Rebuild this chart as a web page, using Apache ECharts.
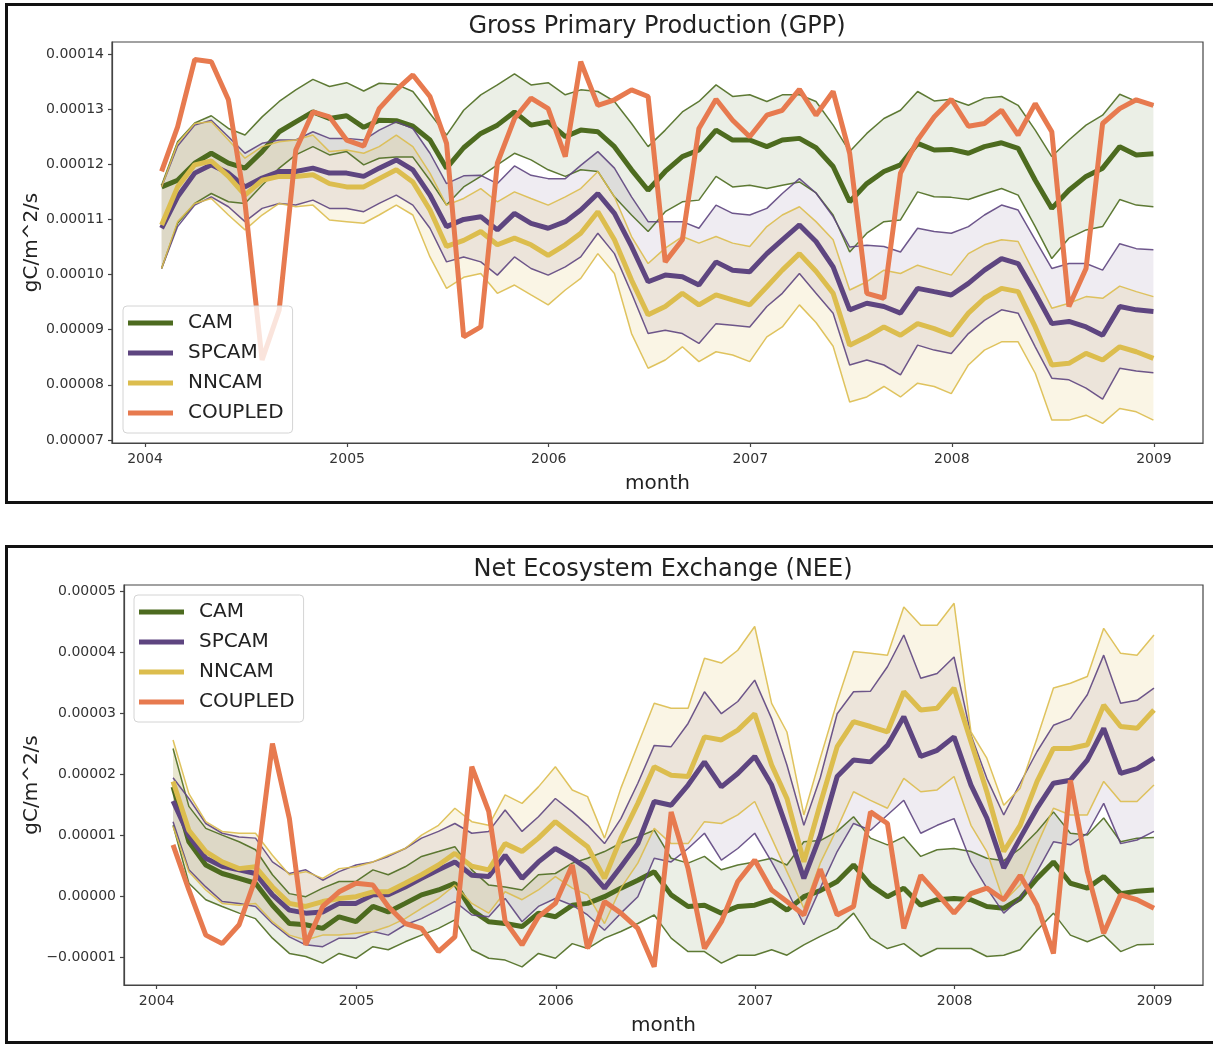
<!DOCTYPE html>
<html>
<head>
<meta charset="utf-8">
<script src="https://cdn.jsdelivr.net/npm/echarts@6/dist/echarts.min.js"></script>
<style>
  html, body { margin: 0; padding: 0; background: #ffffff; }
  #chart { width: 1213px; height: 1045px; }
</style>
</head>
<body>
<div id="chart"></div>
<script>
// Values are stored in units of 1e-5 gC/m^2/s.
const UNIT = 1e-5;

// Monthly samples (month-end dates, Jan 2004 .. Dec 2008), as timestamps
const monthEnds = [];
for (let i = 0; i < 60; i++) monthEnds.push(new Date(2004, i + 1, 0).getTime());

const yearTickLabels = [2004, 2005, 2006, 2007, 2008, 2009];
const gppTickLabels = [7, 8, 9, 10, 11, 12, 13, 14];
const neeTickLabels = [-1, 0, 1, 2, 3, 4, 5];
const models = ['CAM', 'SPCAM', 'NNCAM', 'COUPLED'];

// ---- Gross Primary Production ----
const gppCamMean = [
  11.59, 11.71, 12.02, 12.20, 12.02, 11.93, 12.23, 12.59, 12.77, 12.95, 12.83, 12.88, 12.67, 12.80, 12.79, 12.69, 12.44, 11.93, 12.30,
  12.56, 12.71, 12.95, 12.71, 12.77, 12.50, 12.62, 12.59, 12.32, 11.90, 11.53, 11.87, 12.14, 12.26, 12.62, 12.44, 12.44, 12.32, 12.44, 12.47, 12.30,
  11.96, 11.32, 11.65, 11.87, 11.99, 12.38, 12.26, 12.27, 12.20, 12.32, 12.39, 12.29, 11.71, 11.20, 11.53, 11.78, 11.93, 12.32, 12.17, 12.19];
const gppCamUpper = [
  11.62, 12.41, 12.75, 12.88, 12.65, 12.53, 12.86, 13.14, 13.35, 13.54, 13.41, 13.48, 13.33, 13.47, 13.45, 13.32, 12.92, 12.53, 12.98,
  13.26, 13.44, 13.64, 13.44, 13.48, 13.26, 13.35, 13.32, 13.14, 12.74, 12.32, 12.62, 12.95, 13.14, 13.44, 13.23, 13.26, 13.14, 13.26, 13.26, 13.14,
  12.71, 12.23, 12.56, 12.83, 12.98, 13.32, 13.15, 13.18, 13.07, 13.20, 13.23, 13.07, 12.62, 12.14, 12.44, 12.71, 12.89, 13.27, 13.14, 13.07];
const gppCamLower = [
  10.11, 10.93, 11.29, 11.47, 11.32, 11.29, 11.62, 11.93, 12.17, 12.32, 12.17, 12.23, 11.99, 12.11, 12.13, 12.13, 11.71, 11.26, 11.59,
  11.78, 11.99, 12.20, 12.08, 11.90, 11.78, 11.90, 11.87, 11.41, 11.08, 10.78, 11.14, 11.32, 11.35, 11.78, 11.59, 11.62, 11.56, 11.62, 11.68, 11.48,
  11.08, 10.41, 10.75, 10.96, 10.99, 11.50, 11.41, 11.40, 11.36, 11.46, 11.56, 11.44, 10.87, 10.29, 10.66, 10.81, 10.87, 11.36, 11.26, 11.23];

const gppSpMean = [
  10.84, 11.41, 11.84, 11.99, 11.84, 11.59, 11.75, 11.87, 11.87, 11.93, 11.84, 11.84, 11.78, 11.93, 12.08, 11.90, 11.44, 10.87, 11.00,
  11.05, 10.81, 11.11, 10.93, 10.84, 10.96, 11.17, 11.47, 11.11, 10.51, 9.87, 9.99, 9.96, 9.81, 10.23, 10.08, 10.05, 10.38, 10.63, 10.90, 10.60,
  10.14, 9.36, 9.48, 9.42, 9.30, 9.75, 9.69, 9.63, 9.84, 10.08, 10.29, 10.20, 9.66, 9.11, 9.15, 9.05, 8.90, 9.42, 9.36, 9.33];
const gppSpUpper = [
  11.59, 12.33, 12.71, 12.80, 12.50, 12.20, 12.38, 12.44, 12.44, 12.59, 12.47, 12.47, 12.44, 12.62, 12.77, 12.65, 12.20, 11.65, 11.79,
  11.80, 11.65, 11.97, 11.80, 11.74, 11.74, 11.98, 12.23, 11.93, 11.41, 10.96, 10.96, 10.96, 10.84, 11.26, 11.11, 11.08, 11.20, 11.47, 11.74, 11.48,
  11.05, 10.50, 10.53, 10.51, 10.41, 10.84, 10.78, 10.75, 10.87, 11.08, 11.26, 11.17, 10.63, 10.11, 10.20, 10.20, 10.08, 10.56, 10.47, 10.45];
const gppSpLower = [
  10.11, 10.87, 11.26, 11.41, 11.23, 10.96, 11.20, 11.29, 11.26, 11.35, 11.20, 11.20, 11.14, 11.29, 11.44, 11.26, 10.84, 10.23, 10.32,
  10.23, 9.99, 10.32, 10.11, 9.99, 10.14, 10.32, 10.75, 10.38, 9.66, 8.93, 8.99, 8.93, 8.75, 9.11, 9.08, 9.05, 9.42, 9.66, 10.02, 9.66,
  9.30, 8.36, 8.45, 8.36, 8.18, 8.72, 8.63, 8.57, 8.93, 9.17, 9.36, 9.30, 8.69, 8.12, 8.09, 7.94, 7.74, 8.30, 8.25, 8.22];

const gppNnMean = [
  10.90, 11.59, 11.99, 12.06, 11.78, 11.44, 11.71, 11.78, 11.78, 11.81, 11.65, 11.59, 11.59, 11.74, 11.90, 11.68, 11.17, 10.51, 10.62,
  10.78, 10.54, 10.66, 10.54, 10.35, 10.54, 10.75, 11.14, 10.63, 9.90, 9.27, 9.42, 9.66, 9.45, 9.63, 9.54, 9.45, 9.78, 10.08, 10.38, 10.06,
  9.66, 8.72, 8.87, 9.05, 8.90, 9.11, 9.02, 8.90, 9.30, 9.57, 9.75, 9.69, 9.05, 8.36, 8.39, 8.57, 8.45, 8.69, 8.60, 8.48];
const gppNnUpper = [
  11.59, 12.38, 12.74, 12.77, 12.44, 12.11, 12.32, 12.41, 12.44, 12.53, 12.23, 12.26, 12.20, 12.32, 12.53, 12.32, 11.84, 11.26, 11.38,
  11.56, 11.32, 11.50, 11.38, 11.26, 11.41, 11.56, 11.87, 11.41, 10.69, 10.20, 10.48, 10.69, 10.57, 10.69, 10.57, 10.51, 10.87, 11.08, 11.23, 10.96,
  10.63, 9.72, 9.87, 10.08, 10.02, 10.17, 10.08, 9.99, 10.38, 10.54, 10.63, 10.60, 9.99, 9.39, 9.48, 9.60, 9.57, 9.79, 9.69, 9.60];
const gppNnLower = [
  10.11, 10.96, 11.29, 11.38, 11.08, 10.81, 11.08, 11.29, 11.23, 11.26, 10.99, 10.96, 10.93, 11.08, 11.26, 11.08, 10.32, 9.75, 9.95,
  10.02, 9.66, 9.81, 9.63, 9.45, 9.72, 9.93, 10.38, 10.02, 8.93, 8.30, 8.45, 8.69, 8.42, 8.60, 8.54, 8.42, 8.87, 9.05, 9.45, 9.13,
  8.70, 7.69, 7.78, 7.97, 7.78, 8.03, 7.97, 7.84, 8.36, 8.63, 8.78, 8.78, 8.21, 7.36, 7.36, 7.45, 7.30, 7.57, 7.51, 7.36];

const gppCoupled = [
  11.87, 12.68, 13.90, 13.86, 13.17, 11.30, 8.45, 9.36, 12.26, 12.95, 12.86, 12.44, 12.33, 13.01, 13.35, 13.62, 13.23, 12.38, 8.87,
  9.05, 12.02, 12.83, 13.20, 13.01, 12.14, 13.86, 13.07, 13.17, 13.35, 13.23, 10.23, 10.63, 12.65, 13.18, 12.80, 12.50, 12.89, 12.98, 13.36, 12.89,
  13.32, 12.20, 9.66, 9.57, 11.84, 12.44, 12.86, 13.18, 12.69, 12.74, 12.98, 12.53, 13.10, 12.59, 9.42, 10.11, 12.74, 13.01, 13.17, 13.07];

// ---- Net Ecosystem Exchange ----
const neeCamMean = [
  1.80, 0.90, 0.52, 0.38, 0.30, 0.22, -0.14, -0.44, -0.46, -0.52, -0.33, -0.41, -0.16, -0.25, -0.11, 0.03, 0.11, 0.22, -0.22,
  -0.41, -0.44, -0.49, -0.27, -0.33, -0.14, -0.11, 0.00, 0.14, 0.27, 0.41, 0.03, -0.16, -0.14, -0.27, -0.16, -0.14, -0.05, -0.22, 0.00, 0.10,
  0.25, 0.52, 0.19, 0.00, 0.14, -0.14, -0.05, -0.03, -0.05, -0.16, -0.19, -0.03, 0.30, 0.57, 0.22, 0.14, 0.33, 0.05, 0.09, 0.11];
const neeCamUpper = [
  2.43, 1.48, 1.12, 1.01, 0.90, 0.77, 0.36, 0.05, 0.00, 0.14, 0.25, 0.25, 0.44, 0.36, 0.49, 0.66, 0.74, 0.82, 0.44,
  0.19, 0.16, 0.11, 0.36, 0.38, 0.55, 0.63, 0.74, 0.88, 0.98, 1.09, 0.63, 0.55, 0.66, 0.44, 0.52, 0.57, 0.63, 0.52, 0.90, 0.92,
  1.07, 1.31, 0.96, 0.85, 0.98, 0.66, 0.77, 0.79, 0.74, 0.63, 0.59, 0.79, 1.07, 1.39, 1.04, 1.01, 1.29, 0.90, 0.96, 0.97];
const neeCamLower = [
  1.17, 0.22, -0.05, -0.16, -0.27, -0.36, -0.68, -0.93, -0.98, -1.09, -0.93, -1.01, -0.82, -0.87, -0.74, -0.63, -0.52, -0.38, -0.87,
  -1.01, -1.04, -1.15, -0.93, -1.01, -0.77, -0.85, -0.68, -0.57, -0.44, -0.30, -0.68, -0.90, -0.90, -1.09, -0.96, -0.96, -0.87, -0.96, -0.79, -0.65,
  -0.52, -0.27, -0.68, -0.85, -0.77, -0.98, -0.85, -0.85, -0.85, -0.98, -0.96, -0.87, -0.55, -0.27, -0.63, -0.74, -0.63, -0.90, -0.79, -0.78];

const neeSpMean = [
  1.57, 1.00, 0.63, 0.50, 0.44, 0.38, 0.03, -0.22, -0.27, -0.25, -0.11, -0.11, 0.03, 0.03, 0.16, 0.30, 0.44, 0.57, 0.35,
  0.33, 0.68, 0.30, 0.57, 0.79, 0.63, 0.46, 0.14, 0.49, 0.87, 1.56, 1.50, 1.83, 2.21, 1.80, 2.02, 2.30, 1.83, 1.12, 0.30, 1.00,
  1.97, 2.24, 2.21, 2.48, 2.95, 2.30, 2.40, 2.62, 1.83, 1.29, 0.47, 0.96, 1.45, 1.86, 1.91, 2.24, 2.76, 2.02, 2.10, 2.27];
const neeSpUpper = [
  1.95, 1.61, 1.20, 1.04, 0.98, 0.96, 0.57, 0.38, 0.44, 0.27, 0.41, 0.52, 0.57, 0.66, 0.79, 0.96, 1.07, 1.20, 1.04,
  1.07, 1.42, 1.07, 1.31, 1.61, 1.39, 1.17, 0.87, 1.28, 1.86, 2.48, 2.46, 2.84, 3.36, 3.00, 3.20, 3.55, 2.92, 2.16, 1.17, 1.95,
  3.00, 3.36, 3.37, 3.77, 4.29, 3.58, 3.66, 3.93, 2.65, 1.94, 1.34, 1.86, 2.38, 2.81, 2.92, 3.31, 3.96, 3.17, 3.22, 3.42];
const neeSpLower = [
  1.23, 0.44, 0.16, -0.08, -0.11, -0.16, -0.44, -0.66, -0.79, -0.82, -0.68, -0.68, -0.57, -0.63, -0.46, -0.36, -0.22, -0.08, -0.30,
  -0.33, -0.03, -0.41, -0.16, -0.03, -0.14, -0.30, -0.55, -0.27, 0.00, 0.63, 0.57, 0.79, 1.04, 0.60, 0.79, 1.04, 0.57, 0.11, -0.46, 0.14,
  0.74, 1.20, 1.09, 1.34, 1.58, 1.04, 1.17, 1.28, 0.57, 0.14, -0.27, -0.03, 0.41, 0.90, 0.85, 1.04, 1.53, 0.87, 0.93, 1.07];

const neeNnMean = [
  1.89, 1.09, 0.74, 0.57, 0.46, 0.49, 0.16, -0.11, -0.16, -0.08, -0.03, 0.00, 0.08, 0.08, 0.22, 0.36, 0.52, 0.71, 0.50,
  0.44, 0.87, 0.74, 0.96, 1.23, 1.01, 0.82, 0.30, 0.96, 1.53, 2.13, 1.99, 1.97, 2.62, 2.57, 2.73, 3.00, 2.16, 1.61, 0.57, 1.52,
  2.46, 2.87, 2.79, 2.70, 3.36, 3.06, 3.09, 3.42, 2.54, 1.72, 0.74, 1.17, 1.89, 2.43, 2.43, 2.49, 3.14, 2.79, 2.76, 3.06];
const neeNnUpper = [
  2.57, 1.69, 1.23, 1.07, 1.04, 1.04, 0.68, 0.36, 0.41, 0.30, 0.46, 0.49, 0.57, 0.68, 0.79, 1.01, 1.17, 1.45, 1.23,
  1.17, 1.67, 1.53, 1.80, 2.13, 1.75, 1.64, 0.96, 1.78, 2.49, 3.17, 3.09, 3.09, 3.91, 3.83, 4.04, 4.43, 3.17, 2.70, 1.34, 2.27,
  3.20, 4.02, 3.99, 3.96, 4.75, 4.45, 4.45, 4.81, 2.70, 2.27, 1.50, 1.78, 2.60, 3.42, 3.50, 3.61, 4.40, 3.99, 3.96, 4.29];
const neeNnLower = [
  1.15, 0.41, 0.11, -0.11, -0.14, -0.11, -0.41, -0.63, -0.71, -0.63, -0.63, -0.60, -0.57, -0.49, -0.36, -0.19, -0.03, 0.19, -0.11,
  -0.27, 0.08, -0.05, 0.11, 0.33, 0.14, 0.03, -0.44, 0.14, 0.55, 1.12, 0.87, 0.87, 1.23, 1.20, 1.34, 1.56, 0.96, 0.41, -0.19, 0.55,
  1.12, 1.72, 1.58, 1.45, 1.94, 1.72, 1.75, 1.97, 1.17, 0.74, -0.08, 0.19, 0.85, 1.45, 1.34, 1.34, 1.89, 1.56, 1.56, 1.83];

const neeCoupled = [
  0.85, 0.11, -0.63, -0.77, -0.46, 0.30, 2.51, 1.28, -0.79, -0.16, 0.08, 0.22, 0.19, -0.16, -0.44, -0.52, -0.90, -0.66, 2.13,
  1.40, -0.40, -0.79, -0.33, -0.11, 0.52, -0.85, -0.08, -0.27, -0.52, -1.15, 1.39, 0.46, -0.85, -0.41, 0.25, 0.60, 0.11, -0.08, -0.30, 0.45,
  -0.30, -0.16, 1.39, 1.20, -0.52, 0.35, 0.05, -0.27, 0.05, 0.14, -0.05, 0.35, -0.14, -0.93, 1.91, 0.41, -0.60, 0.03, -0.05, -0.19];

// ---- styling ----
const FONT = "'DejaVu Sans', 'Liberation Sans', sans-serif";
const COLOR = { CAM: '#4d6b1f', SPCAM: '#5e4580', NNCAM: '#dcbd4e', COUPLED: '#e77a4f' };
const FILL = {
  CAM: 'rgba(77,107,31,0.11)',
  SPCAM: 'rgba(94,69,128,0.10)',
  NNCAM: 'rgba(220,189,78,0.15)'
};

const toPairs = vals => monthEnds.map((t, i) => [t, vals[i] * UNIT]);

// Shaded range between the lower and upper bound, as one polygon through the axis scales
function rangeArea(name, gi, lower, upper) {
  return {
    name: name + ' range', type: 'custom', xAxisIndex: gi, yAxisIndex: gi,
    silent: true, animation: false, clip: true,
    data: [[monthEnds[0], lower[0] * UNIT]],
    renderItem: function (params, api) {
      const pts = [];
      for (let i = 0; i < monthEnds.length; i++) pts.push(api.coord([monthEnds[i], upper[i] * UNIT]));
      for (let i = monthEnds.length - 1; i >= 0; i--) pts.push(api.coord([monthEnds[i], lower[i] * UNIT]));
      return { type: 'polygon', shape: { points: pts }, style: { fill: FILL[name], stroke: null } };
    }
  };
}

function thinLine(label, color, gi, vals) {
  return {
    name: label, type: 'line', xAxisIndex: gi, yAxisIndex: gi, symbol: 'none', showSymbol: false,
    silent: true, animation: false, data: toPairs(vals),
    lineStyle: { color: color, width: 1.5, opacity: 0.9 }, itemStyle: { color: color }
  };
}

function thickLine(label, color, gi, vals) {
  return {
    name: label, type: 'line', xAxisIndex: gi, yAxisIndex: gi, symbol: 'none', showSymbol: false,
    silent: true, animation: false, data: toPairs(vals),
    lineStyle: { color: color, width: 5 }, itemStyle: { color: color }
  };
}

function modelSeries(name, gi, lower, mean, upper) {
  return [
    rangeArea(name, gi, lower, upper),
    thinLine(name + ' lower', COLOR[name], gi, lower),
    thinLine(name + ' upper', COLOR[name], gi, upper),
    thickLine(name, COLOR[name], gi, mean)
  ];
}

// x range padded by 5% of the data span on each side
const span = monthEnds[59] - monthEnds[0];
const xMin = monthEnds[0] - 0.05 * span;
const xMax = monthEnds[59] + 0.05 * span;
const yearTicks = yearTickLabels.map(y => new Date(y, 0, 1).getTime());

const fmtY = v => (v.toFixed(5)).replace('-', '\u2212');

function xAxisFor(gi) {
  return {
    type: 'value', gridIndex: gi, min: xMin, max: xMax, scale: true,
    axisLine: { show: true, onZero: false, lineStyle: { color: '#444', width: 1.2 } },
    axisTick: { show: true, customValues: yearTicks, length: 4, lineStyle: { color: '#444', width: 1.2 } },
    axisLabel: {
      customValues: yearTicks, formatter: v => String(new Date(v).getFullYear()),
      fontSize: 14, color: '#333', fontFamily: FONT, margin: 9
    },
    splitLine: { show: false },
    name: 'month', nameLocation: 'middle', nameGap: 31,
    nameTextStyle: { fontSize: 20, color: '#222', fontFamily: FONT }
  };
}

function yAxisFor(gi, min, max, ticks, gap) {
  const vals = ticks.map(v => v * UNIT);
  return {
    type: 'value', gridIndex: gi, min: min * UNIT, max: max * UNIT,
    axisLine: { show: true, onZero: false, lineStyle: { color: '#444', width: 1.2 } },
    axisTick: { show: true, customValues: vals, length: 4, lineStyle: { color: '#444', width: 1.2 } },
    axisLabel: { customValues: vals, formatter: fmtY, fontSize: 14, color: '#333', fontFamily: FONT, margin: 8 },
    splitLine: { show: false },
    name: 'gC/m^2/s', nameLocation: 'middle', nameRotate: 90, nameGap: gap, nameMoveOverlap: false,
    nameTextStyle: { fontSize: 20, color: '#222', fontFamily: FONT }
  };
}

function legendAt(left, top) {
  return {
    data: models, orient: 'vertical', left: left, top: top,
    padding: [6, 9, 9, 5], itemWidth: 45, itemHeight: 5, itemGap: 8, icon: 'rect',
    backgroundColor: 'rgba(255,255,255,0.8)', borderColor: '#d4d4d4', borderWidth: 1, borderRadius: 4,
    selectedMode: false,
    textStyle: { fontSize: 20, color: '#222', fontFamily: FONT, lineHeight: 22, padding: [0, 0, 0, 10] }
  };
}

const series = [].concat(
  modelSeries('CAM', 0, gppCamLower, gppCamMean, gppCamUpper),
  modelSeries('SPCAM', 0, gppSpLower, gppSpMean, gppSpUpper),
  modelSeries('NNCAM', 0, gppNnLower, gppNnMean, gppNnUpper),
  [thickLine('COUPLED', COLOR.COUPLED, 0, gppCoupled)],
  modelSeries('CAM', 1, neeCamLower, neeCamMean, neeCamUpper),
  modelSeries('SPCAM', 1, neeSpLower, neeSpMean, neeSpUpper),
  modelSeries('NNCAM', 1, neeNnLower, neeNnMean, neeNnUpper),
  [thickLine('COUPLED', COLOR.COUPLED, 1, neeCoupled)]
);

const chart = echarts.init(document.getElementById('chart'), null, { renderer: 'canvas' });
chart.setOption({
  backgroundColor: '#ffffff',
  animation: false,
  textStyle: { fontFamily: FONT },
  title: [
    { text: 'Gross Primary Production (GPP)', left: 657, top: 15, textAlign: 'center', padding: 0,
      textStyle: { fontSize: 24, fontWeight: 'normal', color: '#222', fontFamily: FONT } },
    { text: 'Net Ecosystem Exchange (NEE)', left: 663, top: 558, textAlign: 'center', padding: 0,
      textStyle: { fontSize: 24, fontWeight: 'normal', color: '#222', fontFamily: FONT } }
  ],
  grid: [
    { left: 112, top: 42, width: 1091, height: 401, show: true, borderColor: '#444', borderWidth: 1.2, containLabel: false },
    { left: 124, top: 585, width: 1079, height: 400, show: true, borderColor: '#444', borderWidth: 1.2, containLabel: false }
  ],
  xAxis: [xAxisFor(0), xAxisFor(1)],
  yAxis: [
    yAxisFor(0, 6.945, 14.218, gppTickLabels, 70),
    yAxisFor(1, -1.448, 5.11, neeTickLabels, 82)
  ],
  legend: [legendAt(123, 306), legendAt(134, 595)],
  graphic: [
    { type: 'rect', silent: true, z: 100, shape: { x: 6.5, y: 4.5, width: 1240, height: 498 },
      style: { fill: null, stroke: '#111', lineWidth: 3 } },
    { type: 'rect', silent: true, z: 100, shape: { x: 6.5, y: 546.5, width: 1240, height: 496 },
      style: { fill: null, stroke: '#111', lineWidth: 3 } }
  ],
  series: series
});
</script>
</body>
</html>
